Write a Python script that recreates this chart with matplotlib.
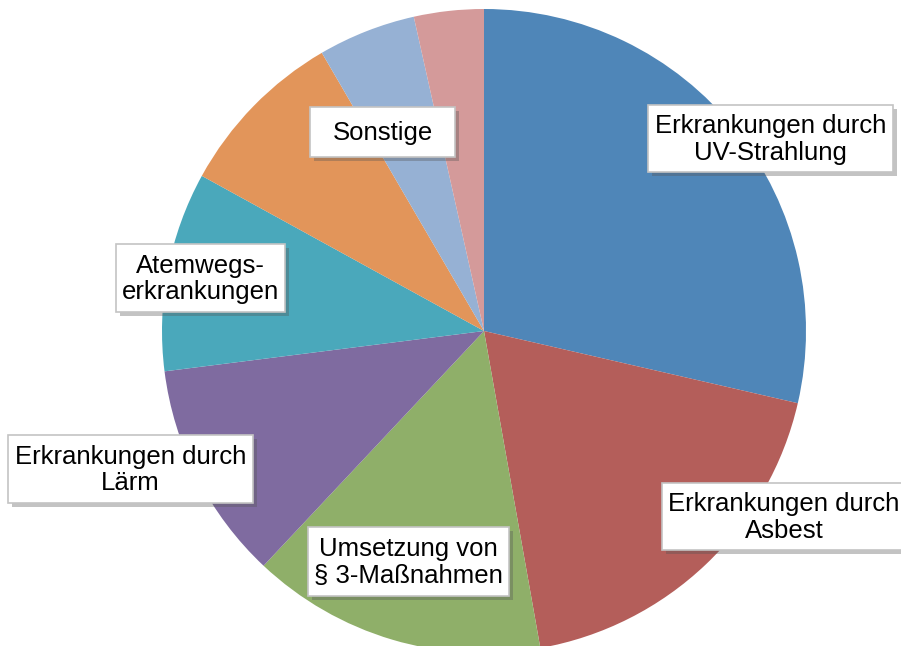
import matplotlib.pyplot as plt
from matplotlib.patches import Rectangle

# Anteile (in %), im Uhrzeigersinn ab 12 Uhr
anteile = [28.6, 18.6, 14.8, 11.0, 10.0, 8.6, 4.9, 3.5]
farben = ['#4F86B8', '#B45E5A', '#8FAF69', '#7F6BA0',
          '#4AA8BB', '#E2955A', '#96B1D4', '#D49A9A']

beschriftungen = ['Erkrankungen durch\nUV-Strahlung',
                  'Erkrankungen durch\nAsbest',
                  'Umsetzung von\n§ 3-Maßnahmen',
                  'Erkrankungen durch\nLärm',
                  'Atemwegs-\nerkrankungen',
                  'Sonstige']
# Kästchen (links, oben, rechts, unten) in Pixeln
kaesten = [(648, 105, 893, 172),
           (662, 483, 906, 550),
           (308, 527, 509, 596),
           (8, 435, 253, 503),
           (116, 244, 285, 312),
           (310, 107, 455, 157)]

fig = plt.figure(figsize=(9.01, 6.46), dpi=100)
ax = fig.add_axes([0, 0, 1, 1])

ax.pie(anteile, colors=farben, startangle=-90, counterclock=True,
       center=(484, 331), radius=322, wedgeprops={'linewidth': 0})

ax.set_xlim(0, 901)
ax.set_ylim(646, 0)
ax.set_aspect('equal')
ax.axis('off')

for text, (x0, y0, x1, y1) in zip(beschriftungen, kaesten):
    # Schatten
    ax.add_patch(Rectangle((x0 + 4, y0 + 4), x1 - x0, y1 - y0,
                           facecolor='#555555', alpha=0.35, lw=0, zorder=3))
    ax.add_patch(Rectangle((x0, y0), x1 - x0, y1 - y0,
                           facecolor='white', edgecolor='#c4c4c4', lw=1.2, zorder=4))
    ax.text((x0 + x1) / 2, (y0 + y1) / 2 + 1, text, ha='center', va='center',
            fontsize=18.5, family='Liberation Sans', linespacing=1.12, zorder=5)

fig.savefig('out.png', dpi=100)
